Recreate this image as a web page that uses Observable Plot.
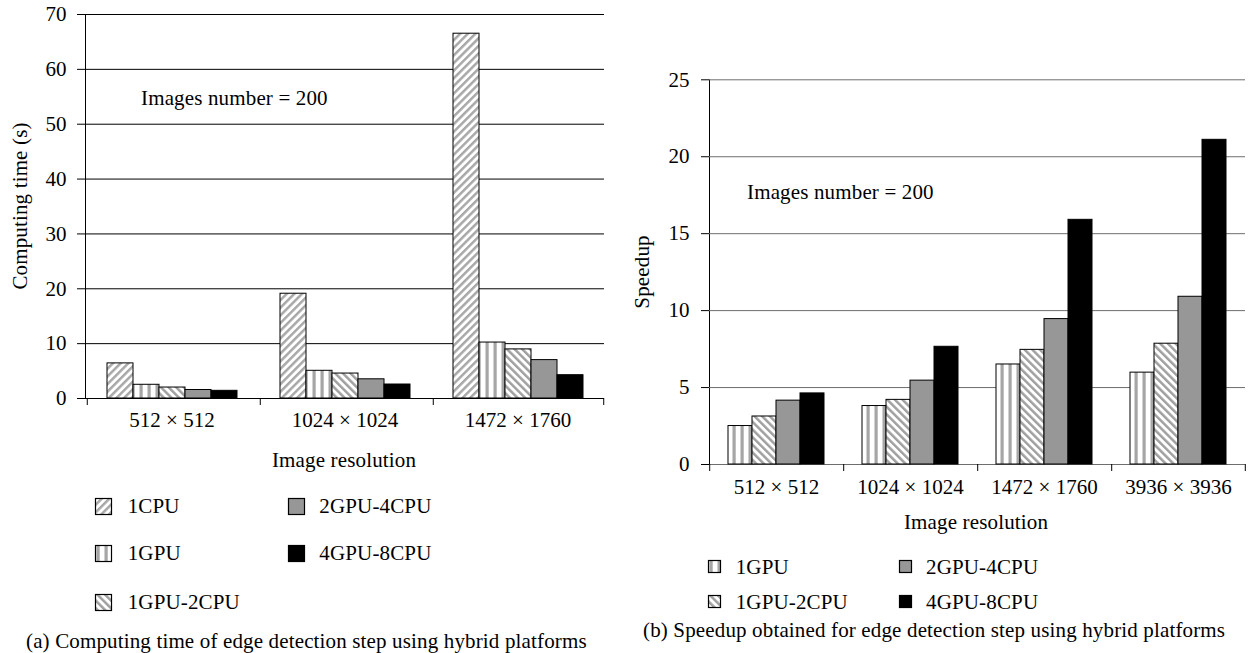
<!DOCTYPE html>
<html>
<head>
<meta charset="utf-8">
<script src="https://cdn.jsdelivr.net/npm/d3@7"></script>
<script src="https://cdn.jsdelivr.net/npm/@observablehq/plot@0.6"></script>
<style>
  html, body { margin: 0; padding: 0; background: #fff; }
  #page { position: relative; width: 1250px; height: 653px; overflow: hidden; background: #fff;
          font-family: "Liberation Serif", "Times New Roman", serif; font-size: 21px; letter-spacing: 0.15px; color: #000; }
  .abs { position: absolute; white-space: nowrap; line-height: 1; }
  .plotbox { position: absolute; top: 0; letter-spacing: 0; }
  .sw { position: absolute; }
</style>
</head>
<body>
<svg width="0" height="0" style="position:absolute">
  <defs>
    <pattern id="pFwd" patternUnits="userSpaceOnUse" width="5.4" height="5.4" patternTransform="rotate(45)">
      <rect width="5.4" height="5.4" fill="#fff"/>
      <rect width="2.5" height="5.4" fill="#a8a8a8"/>
    </pattern>
    <pattern id="pBack" patternUnits="userSpaceOnUse" width="5.4" height="5.4" patternTransform="rotate(-45)">
      <rect width="5.4" height="5.4" fill="#fff"/>
      <rect width="2.5" height="5.4" fill="#a0a0a0"/>
    </pattern>
    <pattern id="pVert" patternUnits="userSpaceOnUse" width="8" height="8">
      <rect width="8" height="8" fill="#fff"/>
      <rect x="2.5" width="3.2" height="8" fill="#a6a6a6"/>
    </pattern>
  </defs>
</svg>
<div id="page"></div>
<script>
// ---------- data: chart (a) computing time ----------
const groupsA = ["512 × 512", "1024 × 1024", "1472 × 1760"];
const seriesA = ["1CPU", "1GPU", "1GPU-2CPU", "2GPU-4CPU", "4GPU-8CPU"];
const timeCPU1     = [6.4, 19.1, 66.5];
const timeGPU1     = [2.5, 5.05, 10.2];
const timeGPU1CPU2 = [2.0, 4.55, 8.95];
const timeGPU2CPU4 = [1.55, 3.5, 7.0];
const timeGPU4CPU8 = [1.4, 2.55, 4.25];
const yTicksA = [0, 10, 20, 30, 40, 50, 60, 70];

// ---------- data: chart (b) speedup ----------
const groupsB = ["512 × 512", "1024 × 1024", "1472 × 1760", "3936 × 3936"];
const seriesB = ["1GPU", "1GPU-2CPU", "2GPU-4CPU", "4GPU-8CPU"];
const speedGPU1     = [2.5, 3.8, 6.5, 5.97];
const speedGPU1CPU2 = [3.12, 4.2, 7.45, 7.85];
const speedGPU2CPU4 = [4.15, 5.45, 9.45, 10.9];
const speedGPU4CPU8 = [4.62, 7.65, 15.9, 21.1];
const yTicksB = [0, 5, 10, 15, 20, 25];

const fills = {
  "1CPU": "url(#pFwd)",
  "1GPU": "url(#pVert)",
  "1GPU-2CPU": "url(#pBack)",
  "2GPU-4CPU": "#979797",
  "4GPU-8CPU": "#000000"
};

function chart(o) {
  const data = o.groups.flatMap((g, gi) => o.series.map((s, si) => ({g, s, v: o.cols[si][gi]})));
  const facetW = (o.width - o.ml - o.mr) / o.groups.length;
  const step = facetW / (o.series.length + 2 * o.po);
  const edge = o.po * step + step / 2;
  const plotH = o.height - o.mt - o.mb;
  const tickData = 7 * o.yMax / plotH;
  const last = o.groups[o.groups.length - 1];
  return Plot.plot({
    width: o.width, height: o.height,
    marginLeft: o.ml, marginRight: o.mr, marginTop: o.mt, marginBottom: o.mb,
    style: {fontFamily: "'Liberation Serif', 'Times New Roman', serif", fontSize: "21px", background: "transparent", color: "#000", overflow: "visible"},
    fx: {domain: o.groups, padding: 0, axis: null, label: null},
    x: {domain: o.series, paddingInner: 0, paddingOuter: o.po, axis: null},
    y: {domain: [0, o.yMax], ticks: o.yTicks, tickSize: 8, tickPadding: o.tickPad, line: true, label: null, tickFormat: d => String(d)},
    color: {domain: o.series, range: o.series.map(s => fills[s])},
    marks: [
      Plot.ruleY(o.yTicks, {stroke: o.gridColor, strokeWidth: 1}),
      Plot.barY(data, {fx: "g", x: "s", y: "v", fill: "s", stroke: "#000", strokeWidth: 1}),
      Plot.ruleX(o.groups, {fx: d => d, x: () => o.series[0], y1: 0, y2: -tickData, dx: -edge, stroke: "#000"}),
      Plot.ruleX([last], {fx: d => d, x: () => o.series[o.series.length - 1], y1: 0, y2: -tickData, dx: edge, stroke: "#000"}),
      Plot.text(o.groups, {fx: d => d, text: d => d, frameAnchor: "bottom", dy: o.labelDy, fill: "#000"})
    ]
  });
}

const page = document.getElementById("page");
function box(left, el) {
  const d = document.createElement("div");
  d.className = "plotbox";
  d.style.left = left + "px";
  d.appendChild(el);
  page.appendChild(d);
}
function text(str, x, y, opts = {}) {
  const d = document.createElement("div");
  d.className = "abs";
  d.textContent = str;
  d.style.left = x + "px";
  d.style.top = y + "px";
  let tf = opts.center ? "translate(-50%,-50%)" : "translate(0,-50%)";
  if (opts.rotate) tf += " rotate(-90deg)";
  d.style.transform = tf;
  page.appendChild(d);
}
function swatch(x, yc, size, fill) {
  const ns = "http://www.w3.org/2000/svg";
  const s = document.createElementNS(ns, "svg");
  s.setAttribute("width", size + 2);
  s.setAttribute("height", size + 2);
  s.setAttribute("class", "sw");
  s.style.left = (x - 1) + "px";
  s.style.top = (yc - size / 2 - 1) + "px";
  const r = document.createElementNS(ns, "rect");
  r.setAttribute("x", 1.5); r.setAttribute("y", 1.5);
  r.setAttribute("width", size - 1); r.setAttribute("height", size - 1);
  r.setAttribute("fill", fill); r.setAttribute("stroke", "#000"); r.setAttribute("stroke-width", 1.2);
  s.appendChild(r);
  page.appendChild(s);
}

// ---------- chart (a) ----------
box(0, chart({
  groups: groupsA, series: seriesA,
  cols: [timeCPU1, timeGPU1, timeGPU1CPU2, timeGPU2CPU4, timeGPU4CPU8],
  yMax: 70, yTicks: yTicksA, width: 620, height: 440,
  ml: 84, mr: 15, mt: 14, mb: 42, po: 0.74, tickPad: 11,
  gridColor: "#000", labelDy: 28
}));
text("Computing time (s)", 19.5, 206, {center: true, rotate: true});
text("Images number = 200", 141, 98);
text("Image resolution", 344, 460, {center: true});
const legA = [["1CPU", 95, 506, 127.7], ["1GPU", 95, 553, 127.7], ["1GPU-2CPU", 95, 602, 127.7],
              ["2GPU-4CPU", 288, 506, 319.3], ["4GPU-8CPU", 288, 553, 319.3]];
for (const [s, x, y, tx] of legA) { swatch(x, y, 17, fills[s]); text(s, tx, y); }
text("(a)  Computing time of edge detection step using hybrid platforms", 26, 641);

// ---------- chart (b) ----------
box(640, chart({
  groups: groupsB, series: seriesB,
  cols: [speedGPU1, speedGPU1CPU2, speedGPU2CPU4, speedGPU4CPU8],
  yMax: 25, yTicks: yTicksB, width: 610, height: 510,
  ml: 67, mr: 3.3, mt: 79.3, mb: 46, po: 0.76, tickPad: 12,
  gridColor: "#6e6e6e", labelDy: 29
}));
text("Speedup", 642, 271.5, {center: true, rotate: true});
text("Images number = 200", 747, 192);
text("Image resolution", 976, 521.7, {center: true});
const legB = [["1GPU", 707.7, 566.7, 735.7], ["1GPU-2CPU", 707.7, 601.7, 735.7],
              ["2GPU-4CPU", 899, 566.7, 926], ["4GPU-8CPU", 899, 601.7, 926]];
for (const [s, x, y, tx] of legB) { swatch(x, y, 13, fills[s]); text(s, tx, y); }
text("(b)  Speedup obtained for edge detection step using hybrid platforms", 643, 630);
</script>
</body>
</html>
